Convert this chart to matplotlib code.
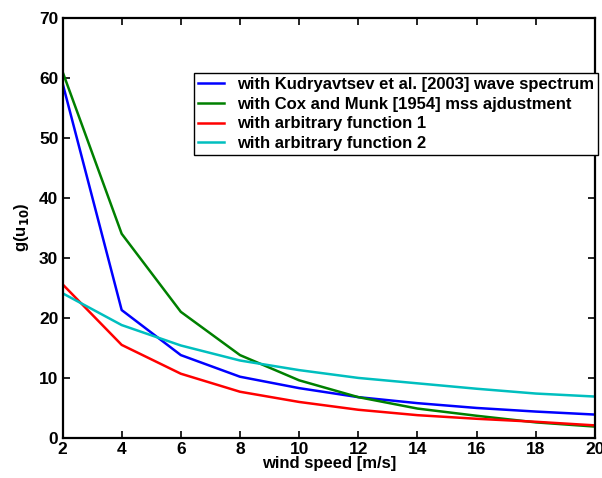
import matplotlib
matplotlib.use("Agg")
import matplotlib.pyplot as plt

plt.rcParams['font.family'] = ['Liberation Sans', 'DejaVu Sans']
plt.rcParams['font.weight'] = 'bold'

# wind speed [m/s]
u10 = [2, 4, 6, 8, 10, 12, 14, 16, 18, 20]
# g(u10) for each method
kudryavtsev = [59.1, 21.3, 13.8, 10.2, 8.3, 6.8, 5.8, 5.0, 4.4, 3.9]
cox_munk = [61.0, 34.0, 21.0, 13.8, 9.6, 6.8, 4.9, 3.7, 2.6, 1.9]
arbitrary1 = [25.6, 15.5, 10.7, 7.7, 6.0, 4.7, 3.8, 3.2, 2.7, 2.1]
arbitrary2 = [24.1, 18.8, 15.4, 12.9, 11.3, 10.0, 9.1, 8.2, 7.4, 6.9]
labels = ["with Kudryavtsev et al. [2003] wave spectrum",
          "with Cox and Munk [1954] mss ajdustment",
          "with arbitrary function 1",
          "with arbitrary function 2"]

fig = plt.figure(figsize=(6.02, 4.78), dpi=100)
ax = fig.add_axes([62.5/602, 1-438/478, (595-62.5)/602, (438-17.5)/478])

ax.plot(u10, kudryavtsev, color='#0000ff', lw=1.8, label=labels[0])
ax.plot(u10, cox_munk, color='#008000', lw=1.8, label=labels[1])
ax.plot(u10, arbitrary1, color='#ff0000', lw=1.8, label=labels[2])
ax.plot(u10, arbitrary2, color='#00bfbf', lw=1.8, label=labels[3])

ax.set_xlim(2, 20)
ax.set_ylim(0, 70)
ax.set_xticks(range(2, 21, 2))
ax.set_yticks(range(0, 71, 10))
ax.tick_params(direction='in', top=True, right=True, length=5, width=1.2,
               labelsize=12.5, pad=3)
for s in ax.spines.values():
    s.set_linewidth(1.6)
for t in ax.get_xticklabels() + ax.get_yticklabels():
    t.set_fontweight('bold')

ax.set_xlabel("wind speed [m/s]", fontsize=12, fontweight='bold', labelpad=-1)
ax.set_ylabel("g(u$_{\\mathbf{10}}$)", fontsize=12, fontweight='bold', labelpad=6)

leg = ax.legend(loc='upper right', bbox_to_anchor=(1.006, 0.867), fancybox=False,
                edgecolor='black', framealpha=1, prop={'weight': 'bold', 'size': 12},
                handlelength=1.6, borderpad=0.22, labelspacing=0.28, handletextpad=0.8,
                borderaxespad=0)
leg.get_frame().set_linewidth(1.0)

fig.savefig("out.png", dpi=100)
